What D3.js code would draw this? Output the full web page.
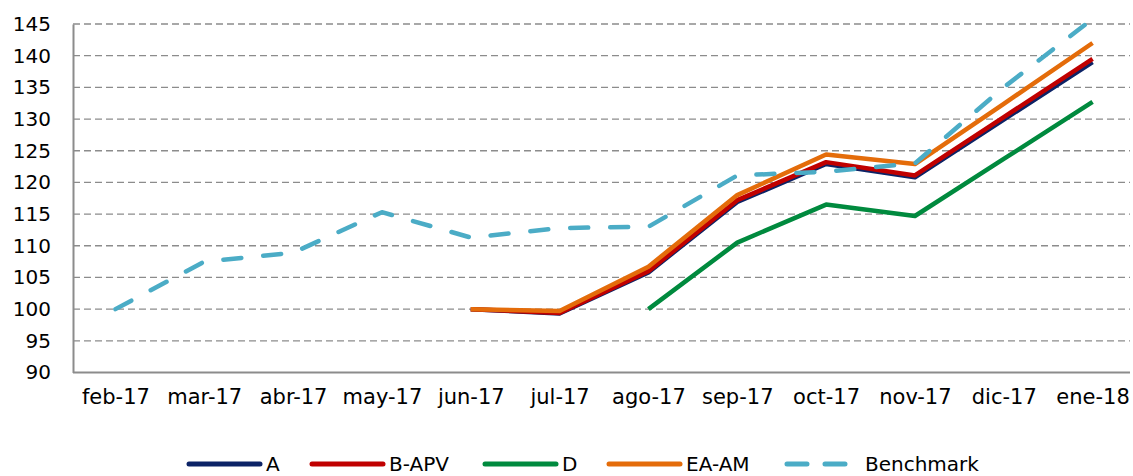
<!DOCTYPE html>
<html>
<head>
<meta charset="utf-8">
<script src="https://cdn.jsdelivr.net/npm/d3@7"></script>
<style>
  body { margin: 0; background: #fff; }
  text { font-family: "DejaVu Sans", Verdana, sans-serif; fill: #000; }
</style>
</head>
<body>
<svg width="1133" height="476"></svg>
<script>
// Données
const months = ["feb-17", "mar-17", "abr-17", "may-17", "jun-17", "jul-17",
                "ago-17", "sep-17", "oct-17", "nov-17", "dic-17", "ene-18"];
const yTicks = [90, 95, 100, 105, 110, 115, 120, 125, 130, 135, 140, 145];

const serieA     = [null, null, null, null, 100, 99.3, 105.8, 116.9, 122.9, 120.8, 129.9, 139.0];
const serieBAPV  = [null, null, null, null, 100, 99.4, 106.0, 117.2, 123.2, 121.1, 130.3, 139.5];
const serieD     = [null, null, null, null, null, null, 100, 110.5, 116.5, 114.7, 123.7, 132.7];
const serieEAAM  = [null, null, null, null, 100, 99.7, 106.7, 118.0, 124.4, 122.9, 132.4, 142.0];
const benchmark  = [100, 107.5, 108.9, 115.3, 111.3, 112.8, 113.0, 121.1, 121.7, 123.0, 135.0, 145.8];

const series = [
  { name: "A",         values: serieA,    color: "#0c2366", dash: null },
  { name: "B-APV",     values: serieBAPV, color: "#c00000", dash: null },
  { name: "D",         values: serieD,    color: "#008a3e", dash: null },
  { name: "EA-AM",     values: serieEAAM, color: "#e46c0a", dash: null },
  { name: "Benchmark", values: benchmark, color: "#4bacc6", dash: "18,22" }
];

const svg = d3.select("svg");
const plotLeft = 73, plotRight = 1130, plotTop = 24, plotBottom = 372.5;

const x = d3.scalePoint().domain(months).range([71, 1137]).padding(0.5);
const y = d3.scaleLinear().domain([90, 145]).range([plotBottom, plotTop]);

// Grille
svg.append("g")
  .selectAll("line")
  .data(yTicks.filter(d => d > 90))
  .join("line")
  .attr("x1", plotLeft).attr("x2", plotRight)
  .attr("y1", d => y(d)).attr("y2", d => y(d))
  .attr("stroke", "#8c8c8c")
  .attr("stroke-width", 1.3)
  .attr("stroke-dasharray", "7,4");

// Axes
const yAxis = svg.append("g")
  .attr("transform", `translate(${plotLeft},0)`)
  .call(d3.axisLeft(y).tickValues(yTicks).tickSize(0).tickPadding(22));
yAxis.select(".domain").attr("stroke", "#8c8c8c").attr("stroke-width", 2);
yAxis.selectAll("text").style("font-size", "20px").attr("font-family", null);

const xAxis = svg.append("g")
  .attr("transform", `translate(0,${plotBottom})`)
  .call(d3.axisBottom(x).tickSize(0).tickPadding(17));
xAxis.select(".domain").attr("d", `M${plotLeft},0H${plotRight}`)
  .attr("stroke", "#8c8c8c").attr("stroke-width", 2);
xAxis.selectAll("text").style("font-size", "21px").attr("font-family", null);

// Courbes
svg.append("clipPath").attr("id", "clip")
  .append("rect").attr("x", plotLeft).attr("y", plotTop - 2)
  .attr("width", plotRight - plotLeft + 10).attr("height", plotBottom - plotTop + 2);

const line = d3.line()
  .defined(d => d != null)
  .x((d, i) => x(months[i]))
  .y(d => y(d));

svg.append("g").attr("clip-path", "url(#clip)")
  .selectAll("path")
  .data(series)
  .join("path")
  .attr("d", d => line(d.values))
  .attr("fill", "none")
  .attr("stroke", d => d.color)
  .attr("stroke-width", 4.5)
  .attr("stroke-linejoin", "round")
  .attr("stroke-linecap", d => d.dash ? "round" : "butt")
  .attr("stroke-dasharray", d => d.dash);

// Légende
const legendX = [189, 312, 485, 609, 787];
const legend = svg.append("g").selectAll("g")
  .data(series)
  .join("g")
  .attr("transform", (d, i) => `translate(${legendX[i]},464)`);

legend.append("line")
  .attr("x1", 0).attr("x2", 71)
  .attr("stroke", d => d.color)
  .attr("stroke-width", 5)
  .attr("stroke-linecap", "round")
  .attr("stroke-dasharray", d => d.dash ? "20,18" : null);

legend.append("text")
  .attr("x", d => d.dash ? 78 : 77)
  .attr("y", 7)
  .style("font-size", "20px")
  .text(d => d.name);
</script>
</body>
</html>
